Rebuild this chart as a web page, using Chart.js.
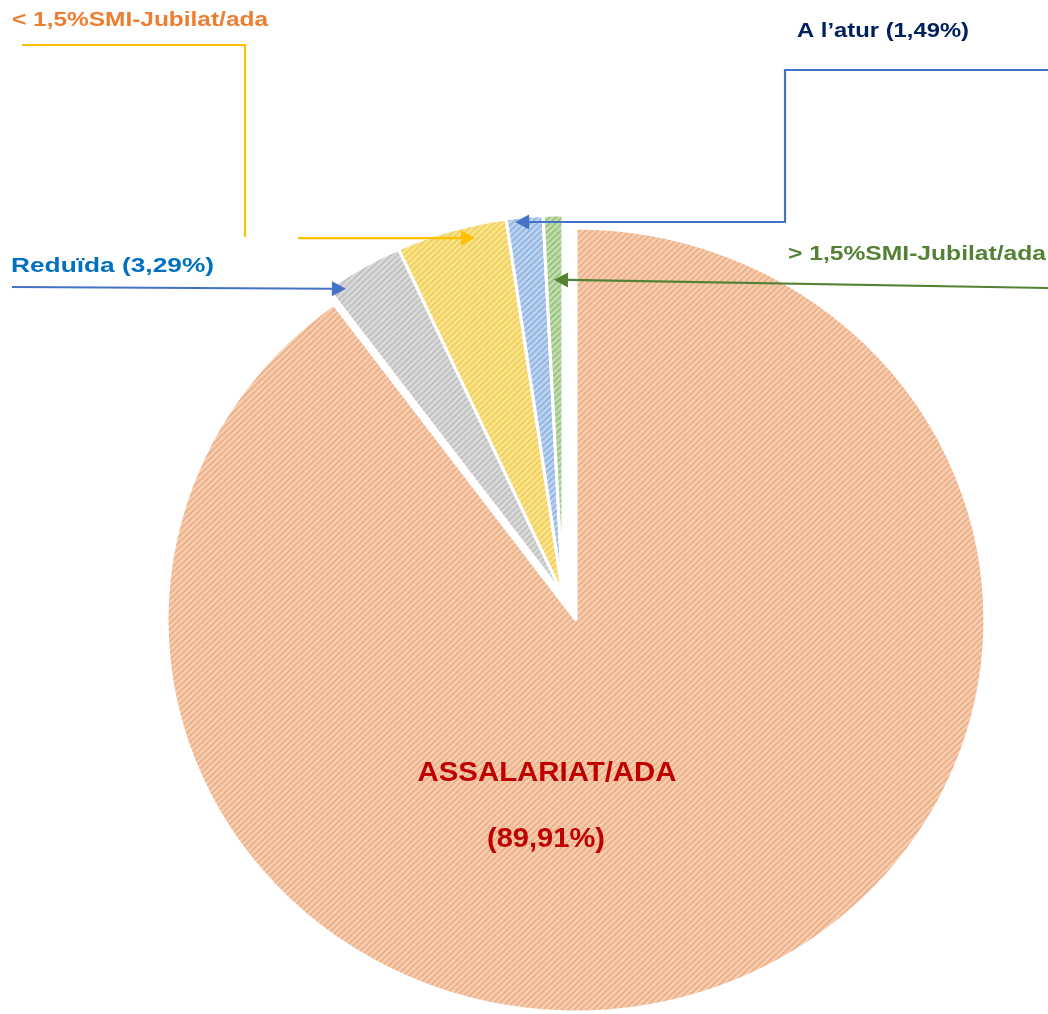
<!DOCTYPE html>
<html><head><meta charset="utf-8">
<script src="https://cdn.jsdelivr.net/npm/chart.js@4/dist/chart.umd.min.js"></script>
<style>html,body{margin:0;padding:0;background:#fff;}canvas{display:block;}</style>
</head><body>
<canvas id="c" width="1048" height="1014"></canvas>
<script>
// ---- data ----
const categories = ['ASSALARIAT/ADA', 'Reduïda', '< 1,5%SMI-Jubilat/ada', 'A l\u2019atur', '> 1,5%SMI-Jubilat/ada'];
const shares = [89.91, 3.29, 4.51, 1.49, 0.80];
const mainLabel = ['ASSALARIAT/ADA', '(89,91%)'];
const calloutTexts = ['Reduïda (3,29%)', '< 1,5%SMI-Jubilat/ada', 'A l\u2019atur (1,49%)', '> 1,5%SMI-Jubilat/ada'];

// ---- styles ----
const baseColors = ['#F6CDB0', '#DADADA', '#FAE38E', '#BCD4F0', '#C2DEAE'];
const stripeColors = ['#EAA87C', '#B9B9B9', '#EECB4C', '#86ACDE', '#8DBB70'];
const FONT = '"Liberation Sans", Arial, sans-serif';
const SX = 1.0434;            // horizontal stretch of the reference
const SMALL_DX = -12.5, SMALL_DY = -25, SMALL_R = 380;

function hatch(base, stripe) {
  const c = document.createElement('canvas');
  c.width = 6; c.height = 6;
  const g = c.getContext('2d');
  g.fillStyle = base; g.fillRect(0, 0, 6, 6);
  g.strokeStyle = stripe; g.lineWidth = 1.4;
  g.beginPath();
  g.moveTo(-1, 7); g.lineTo(7, -1);
  g.moveTo(-4, 4); g.lineTo(4, -4);
  g.moveTo(2, 10); g.lineTo(10, 2);
  g.stroke();
  return g.createPattern(c, 'repeat');
}
const fills = baseColors.map((b, i) => hatch(b, stripeColors[i]));

function fitText(ctx, text, x, y, font, color, w, align) {
  ctx.save();
  ctx.font = font; ctx.fillStyle = color; ctx.textBaseline = 'alphabetic'; ctx.textAlign = 'left';
  const m = ctx.measureText(text).width;
  const s = w / m;
  const x0 = align === 'center' ? x - w / 2 : x;
  ctx.translate(x0, y); ctx.scale(s, 1);
  ctx.fillText(text, 0, 0);
  ctx.restore();
}

function arrow(ctx, pts, color, lw) {
  const n = pts.length;
  const [tx, ty] = pts[n - 1], [px, py] = pts[n - 2];
  const ang = Math.atan2(ty - py, tx - px);
  const L = 14, H = 7.5;
  const bx = tx - L * Math.cos(ang), by = ty - L * Math.sin(ang);
  ctx.save();
  ctx.strokeStyle = color; ctx.fillStyle = color; ctx.lineWidth = lw;
  ctx.beginPath(); ctx.moveTo(pts[0][0], pts[0][1]);
  for (let i = 1; i < n - 1; i++) ctx.lineTo(pts[i][0], pts[i][1]);
  ctx.lineTo(bx, by); ctx.stroke();
  ctx.beginPath(); ctx.moveTo(tx, ty);
  ctx.lineTo(bx + H * Math.sin(ang), by - H * Math.cos(ang));
  ctx.lineTo(bx - H * Math.sin(ang), by + H * Math.cos(ang));
  ctx.closePath(); ctx.fill();
  ctx.restore();
}

function line(ctx, pts, color, lw) {
  ctx.save(); ctx.strokeStyle = color; ctx.lineWidth = lw;
  ctx.beginPath(); ctx.moveTo(pts[0][0], pts[0][1]);
  for (let i = 1; i < pts.length; i++) ctx.lineTo(pts[i][0], pts[i][1]);
  ctx.stroke(); ctx.restore();
}

const piePlugin = {
  id: 'piePlugin',
  beforeDatasetsDraw(chart) {
    const meta = chart.getDatasetMeta(0);
    const ctx = chart.ctx;
    meta.data.forEach((el, i) => {
      if (i === 0 || el._wrapped) return;
      const orig = el.draw;
      el.draw = function (c) {
        const ox = this.x, oy = this.y, orr = this.outerRadius;
        this.x = ox + SMALL_DX; this.y = oy + SMALL_DY; this.outerRadius = SMALL_R;
        orig.call(this, c);
        this.x = ox; this.y = oy; this.outerRadius = orr;
      };
      el._wrapped = true;
    });
    const cx = meta.data[0].x;
    ctx.save();
    ctx.translate(cx, 0); ctx.scale(SX, 1); ctx.translate(-cx, 0);
  },
  afterDatasetsDraw(chart) {
    chart.ctx.restore();
  },
  afterDraw(chart) {
    const ctx = chart.ctx;
    const meta = chart.getDatasetMeta(0);
    const tip = (i, f, rf) => {
      const el = meta.data[i];
      const a = el.startAngle + f * (el.endAngle - el.startAngle);
      const ax = el.x + SMALL_DX, ay = el.y + SMALL_DY;
      const ux = ax + SMALL_R * rf * Math.cos(a), uy = ay + SMALL_R * rf * Math.sin(a);
      return [el.x + (ux - el.x) * SX, uy];
    };
    const BLUE = '#4472C4', YEL = '#FFC000', GRN = '#548235';
    // Reduïda
    const tG = tip(1, 0.18, 0.974);
    arrow(ctx, [[12, 287], tG], BLUE, 2.2);
    // < 1,5% SMI
    const tY = tip(2, 0.69, 0.965);
    line(ctx, [[22, 45], [245, 45], [245, 237]], YEL, 2.2);
    arrow(ctx, [[298, tY[1]], tY], YEL, 2.2);
    // A l'atur
    const tB = tip(3, 0.23, 0.989);
    arrow(ctx, [[1048, 70], [785, 70], [785, tB[1]], tB], BLUE, 2.2);
    // > 1,5% SMI
    const tGr = tip(4, 0.46, 0.83);
    arrow(ctx, [[1048, 288], tGr], GRN, 2.2);

    const f20 = 'bold 21px ' + FONT, f26 = 'bold 27px ' + FONT;
    fitText(ctx, calloutTexts[1], 12, 26, f20, '#ED7D31', 256);
    fitText(ctx, calloutTexts[2], 797, 37, f20, '#002060', 172);
    fitText(ctx, calloutTexts[0], 11, 272, f20, '#0070C0', 203);
    fitText(ctx, calloutTexts[3], 788, 260, f20, '#548235', 258);
    fitText(ctx, mainLabel[0], 547, 781, f26, '#C00000', 259, 'center');
    fitText(ctx, mainLabel[1], 546, 847, f26, '#C00000', 118, 'center');
  }
};

new Chart(document.getElementById('c'), {
  type: 'pie',
  data: {
    labels: categories,
    datasets: [{
      data: shares,
      backgroundColor: fills,
      borderColor: '#FFFFFF',
      borderWidth: 3,
      radius: 392,
      clip: false
    }]
  },
  options: {
    responsive: false,
    animation: false,
    layout: { padding: { left: 150, right: 46, top: 230, bottom: 4 } },
    plugins: { legend: { display: false }, tooltip: { enabled: false } }
  },
  plugins: [piePlugin]
});
</script>
</body></html>
